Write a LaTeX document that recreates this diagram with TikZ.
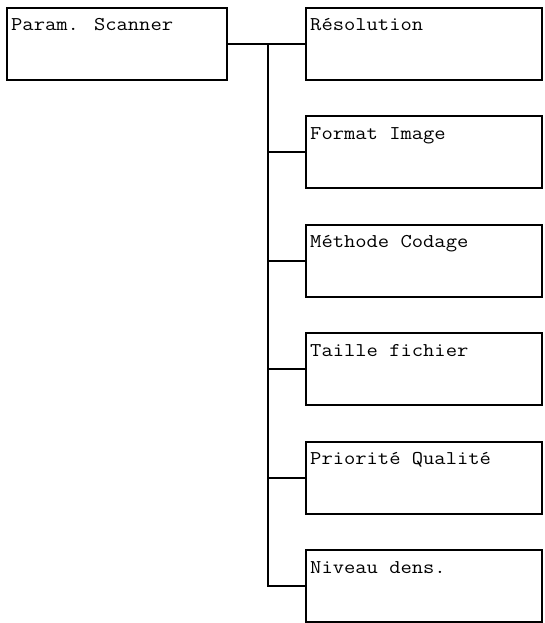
\documentclass[tikz,border=0pt]{standalone}
\usepackage{fontspec}
\newfontfamily\cour[FakeStretch=1.125]{Latin Modern Mono}
\begin{document}
\begin{tikzpicture}[x=1pt,y=-1pt,
  box/.style={draw=black,line width=2pt,rectangle,inner sep=0pt,minimum height=72pt},
  lbox/.style={box,minimum width=220pt},
  rbox/.style={box,minimum width=236pt},
  txt/.style={anchor=base west,inner sep=0pt,font=\fontsize{19.5}{21}\selectfont\cour},
  conn/.style={line width=2pt}]
\useasboundingbox (0,0) rectangle (545,623);
\node[lbox] (root) at (117,44) {};
\node[txt] at ([shift={(5pt,-24pt)}]root.north west) {Param. Scanner};
\foreach \i/\t/\n in {0/Résolution/r0,1/Format Image/r1,2/Méthode Codage/r2,3/Taille fichier/r3,4/Priorité Qualité/r4,5/Niveau dens./r5}{
  \node[rbox] (\n) at (424,{44+108.4*\i}) {};
  \node[txt] at ([shift={(5pt,-24pt)}]\n.north west) {\t};
}
\coordinate (top) at (268,44);
\coordinate (bot) at (268,{44+108.4*5});
\draw[conn] (root.east) -- (r0.west);
\draw[conn] (top) -- (bot) -- (r5.west);
\foreach \n in {r1,r2,r3,r4}{
  \draw[conn] (\n.west -| top) -- (\n.west);
}
\end{tikzpicture}
\end{document}
